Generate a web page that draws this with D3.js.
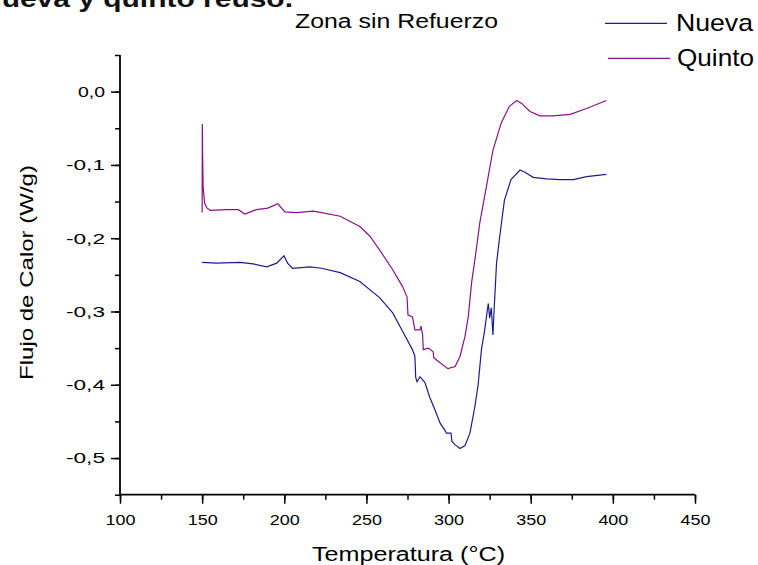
<!DOCTYPE html>
<html><head><meta charset="utf-8">
<script src="https://cdn.jsdelivr.net/npm/d3@7"></script>
<style>body{margin:0;background:#fff}svg{display:block;font-family:"Liberation Sans",Arial,sans-serif}</style>
</head><body><svg id="c" width="758" height="565"></svg>
<script>
const xTicks = [100,150,200,250,300,350,400,450];
const yTicks = [0,-0.1,-0.2,-0.3,-0.4,-0.5];
const seriesNames = ["Nueva","Quinto"];
const seriesColors = ["#1c1c8e","#8a128a"];

const nuevaT = [150,158.8,173,181,189.3,195.4,199.8,202,205,215.6,222.7,234,246,258,266,272,278,279.5,280,280.8,282.6,285.6,288.7,291.7,294.8,298.8,301.5,302,304,307,310,313,316,318,320,322,323.6,324.2,325,326,327,327.6,329.2,331,334,338,343.5,346.5,351.5,359.7,367.8,376,384,396];
const nuevaV = [-0.233,-0.234,-0.233,-0.235,-0.239,-0.234,-0.224,-0.234,-0.241,-0.239,-0.241,-0.247,-0.259,-0.281,-0.302,-0.327,-0.352,-0.361,-0.390,-0.396,-0.389,-0.397,-0.418,-0.434,-0.452,-0.466,-0.466,-0.477,-0.482,-0.487,-0.483,-0.466,-0.430,-0.400,-0.352,-0.325,-0.298,-0.289,-0.309,-0.295,-0.332,-0.303,-0.234,-0.200,-0.148,-0.120,-0.107,-0.110,-0.117,-0.119,-0.120,-0.120,-0.116,-0.113];

const quintoT = [150,150.1,150.3,150.6,151.5,153,155,165,172,176,183,190,196,200.4,207.5,217.6,222.7,234,246,252,258,266,272,274.7,275.3,278,279.5,282.6,283.2,284.2,284.6,287.8,290.6,291,294.8,299.6,304,307,310,312,314,316,319,323,327,332,337,341.5,344.5,349.6,355.6,363.6,374,384,396];
const quintoV = [-0.165,-0.044,-0.085,-0.13,-0.152,-0.159,-0.162,-0.161,-0.161,-0.167,-0.161,-0.159,-0.153,-0.164,-0.165,-0.163,-0.165,-0.170,-0.184,-0.197,-0.216,-0.243,-0.266,-0.280,-0.305,-0.307,-0.325,-0.325,-0.320,-0.332,-0.352,-0.350,-0.355,-0.363,-0.370,-0.378,-0.375,-0.361,-0.334,-0.307,-0.261,-0.230,-0.179,-0.130,-0.080,-0.043,-0.020,-0.012,-0.016,-0.027,-0.033,-0.033,-0.031,-0.023,-0.012];

const svg = d3.select("#c");
const x = d3.scaleLinear().domain([100,450]).range([120,695]);
const y = d3.scaleLinear().domain([-0.55,0.05]).range([494.7,55]);

// cut-off top-left heading
svg.append("text").attr("x",-20).attr("y",7).attr("font-size",24).attr("font-weight","bold").attr("fill","#111")
  .attr("textLength",313).attr("lengthAdjust","spacingAndGlyphs").text("Nueva y quinto reuso.");

// title
svg.append("text").attr("x",295).attr("y",28).attr("font-size",20).attr("fill","#000")
  .attr("textLength",203).attr("lengthAdjust","spacingAndGlyphs").text("Zona sin Refuerzo");

const fmt = d => d3.format(".1f")(d).replace(".",",").replace("−","-");

// minor ticks
const yMinor = d3.range(-0.55,0.0501,0.05).map(v=>+v.toFixed(2));
const xMinor = d3.range(100,451,25);
const gx = svg.append("g").attr("transform","translate(0,494.7)");
gx.call(d3.axisBottom(x).tickValues(xMinor).tickSize(5).tickFormat(""));
gx.select(".domain").remove();
gx.selectAll("line").attr("stroke","#000").attr("stroke-width",1.5);
const gx2 = svg.append("g").attr("transform","translate(0,494.7)");
gx2.call(d3.axisBottom(x).tickValues(xTicks).tickSize(9).tickPadding(11).tickFormat(d=>d));
gx2.select(".domain").attr("stroke","#000").attr("stroke-width",1.8).attr("d","M120,0H695");
gx2.selectAll("line").attr("stroke","#000").attr("stroke-width",1.5);
gx2.selectAll("text").attr("font-size",15).attr("fill","#000").attr("font-family","Liberation Sans, Arial, sans-serif")
  .attr("textLength",30).attr("lengthAdjust","spacingAndGlyphs");

const gy = svg.append("g").attr("transform","translate(120,0)");
gy.call(d3.axisLeft(y).tickValues(yMinor).tickSize(5).tickFormat(""));
gy.select(".domain").remove();
gy.selectAll("line").attr("stroke","#000").attr("stroke-width",1.5);
const gy2 = svg.append("g").attr("transform","translate(120,0)");
gy2.call(d3.axisLeft(y).tickValues(yTicks).tickSize(9).tickPadding(6).tickFormat(fmt));
gy2.select(".domain").attr("stroke","#000").attr("stroke-width",1.8).attr("d","M0,55V494.7");
gy2.selectAll("line").attr("stroke","#000").attr("stroke-width",1.5);
gy2.selectAll("text").attr("font-size",15).attr("fill","#000").attr("font-family","Liberation Sans, Arial, sans-serif")
  .attr("textLength",d=>d<0?39:27).attr("lengthAdjust","spacingAndGlyphs");

// axis titles
svg.append("text").attr("x",312).attr("y",561).attr("font-size",20)
  .attr("textLength",193).attr("lengthAdjust","spacingAndGlyphs").text("Temperatura (°C)");
svg.append("text").attr("transform","translate(33,380) rotate(-90)").attr("font-size",19)
  .attr("textLength",215).attr("lengthAdjust","spacingAndGlyphs").text("Flujo de Calor (W/g)");

// lines
const line = d3.line().x(d=>x(d[0])).y(d=>y(d[1]));
const data = [d3.zip(nuevaT,nuevaV), d3.zip(quintoT,quintoV)];
data.forEach((d,i)=>{
  svg.append("path").datum(d).attr("d",line).attr("fill","none").attr("stroke",seriesColors[i]).attr("stroke-width",1.2);
});

// legend
const legY = [23.3,58.3];
const legX = [605,608];
const legTX = [676,677];
seriesNames.forEach((n,i)=>{
  svg.append("line").attr("x1",legX[i]).attr("x2",legX[i]+62).attr("y1",legY[i]).attr("y2",legY[i]).attr("stroke",seriesColors[i]).attr("stroke-width",1.3);
  svg.append("text").attr("x",legTX[i]).attr("y",legY[i]+8).attr("font-size",24)
    .attr("textLength",77).attr("lengthAdjust","spacingAndGlyphs").text(n);
});
</script></body></html>
